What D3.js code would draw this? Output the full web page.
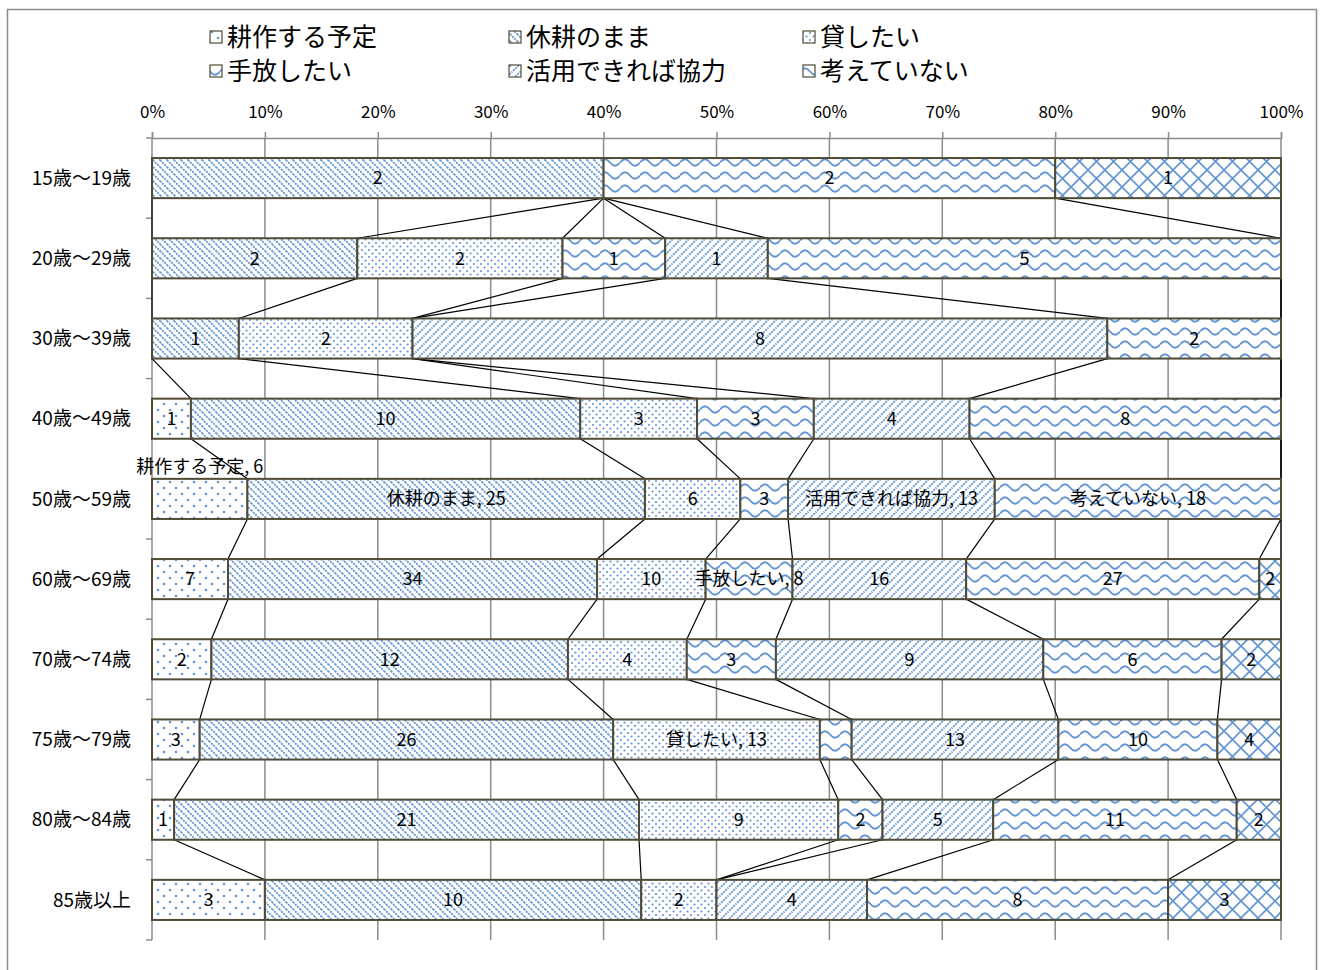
<!DOCTYPE html>
<html><head><meta charset="utf-8">
<script src="https://cdn.jsdelivr.net/npm/d3@7/dist/d3.min.js"></script>
<style>
body{margin:0;background:#fff;}
text{font-family:"Noto Sans CJK JP","Noto Sans",sans-serif;}
</style></head>
<body><svg id="c" width="1323" height="970"></svg>
<script>
const categories = ["15歳～19歳","20歳～29歳","30歳～39歳","40歳～49歳","50歳～59歳","60歳～69歳","70歳～74歳","75歳～79歳","80歳～84歳","85歳以上"];
const seriesNames = ["耕作する予定","休耕のまま","貸したい","手放したい","活用できれば協力","考えていない","その他"];
const s耕作 = [0,0,0,1,6,7,2,3,1,3];
const s休耕 = [2,2,1,10,25,34,12,26,21,10];
const s貸 = [0,2,2,3,6,10,4,13,9,2];
const s手放 = [0,1,0,3,3,8,3,2,2,0];
const s活用 = [0,1,8,4,13,16,9,13,5,4];
const s考え = [2,5,2,8,18,27,6,10,11,8];
const sその他 = [1,0,0,0,0,2,2,4,2,3];
const seriesValues = [s耕作,s休耕,s貸,s手放,s活用,s考え,sその他];
const legendSeries = 6; // last series not listed in the legend
const xTicks = [0,0.1,0.2,0.3,0.4,0.5,0.6,0.7,0.8,0.9,1];
// labels shown as "name, value": [category index, series index]
const nameLabels = [[4,0],[4,1],[4,4],[4,5],[5,3],[7,2]];
const hiddenLabels = [[7,3]];
const aboveLabels = [[4,0]];

const svg = d3.select("#c");
const blue = "#6596d4";
const defs = svg.append("defs");
function pat(id,w,h,fn){const p=defs.append("pattern").attr("id",id).attr("patternUnits","userSpaceOnUse").attr("width",w).attr("height",h);p.append("rect").attr("width",w).attr("height",h).attr("fill","#fff");fn(p);}
pat("p0",12,12,p=>{p.append("circle").attr("cx",2).attr("cy",2).attr("r",1.3).attr("fill",blue);p.append("circle").attr("cx",8).attr("cy",8).attr("r",1.3).attr("fill",blue);});
pat("p1",7,7,p=>{p.append("path").attr("d","M-1,-1 L8,8 M-1,6 L1,8 M6,-1 L8,1").attr("stroke",blue).attr("stroke-width",1.8).attr("stroke-dasharray","2,1");});
pat("p2",7,7,p=>{p.append("circle").attr("cx",1.5).attr("cy",1.5).attr("r",1.1).attr("fill",blue);p.append("circle").attr("cx",5).attr("cy",5).attr("r",1.1).attr("fill",blue);});
pat("p3",20,13,p=>{p.append("path").attr("d","M0,6.5 Q5,0 10,6.5 T20,6.5").attr("fill","none").attr("stroke",blue).attr("stroke-width",2);});
pat("p4",8,8,p=>{p.append("path").attr("d","M-1,9 L9,-1 M-1,1 L1,-1 M7,9 L9,7").attr("stroke",blue).attr("stroke-width",1.8).attr("stroke-dasharray","2,1");});
pat("p5",20,13,p=>{p.append("path").attr("d","M0,6.5 Q5,0 10,6.5 T20,6.5").attr("fill","none").attr("stroke",blue).attr("stroke-width",2);});
pat("p6",17,17,p=>{p.append("path").attr("d","M0,0 L17,17 M17,0 L0,17").attr("stroke",blue).attr("stroke-width",1.7);});

// chart border
svg.append("rect").attr("x",7.5).attr("y",9.5).attr("width",1309).attr("height",990).attr("fill","none").attr("stroke","#8c8c8c").attr("stroke-width",1.5);

const x = d3.scaleLinear().domain([0,1]).range([152,1281]);
const y = d3.scaleBand().domain(categories).range([138,940]).paddingInner(0.5).paddingOuter(0.25);
const bw = y.bandwidth();

const table = categories.map((c,i)=>{const o={cat:c};seriesNames.forEach((s,j)=>o[s]=seriesValues[j][i]);return o;});
const stacked = d3.stack().keys(seriesNames).offset(d3.stackOffsetExpand)(table);

// gridlines
svg.append("g").selectAll("line").data(xTicks.slice(1)).join("line")
 .attr("x1",d=>x(d)).attr("x2",d=>x(d)).attr("y1",138).attr("y2",940)
 .attr("stroke","#8c8c8c").attr("stroke-width",1.5);

// top axis
const ax = svg.append("g").attr("transform","translate(0,138)")
 .call(d3.axisTop(x).tickValues(xTicks).tickFormat(d3.format(".0%")).tickSize(6).tickPadding(14));
ax.select(".domain").attr("stroke","#8c8c8c").attr("stroke-width",1.5);
ax.selectAll(".tick line").attr("stroke","#8c8c8c").attr("stroke-width",1.5);
ax.selectAll("text").attr("font-size",17).attr("fill","#000").attr("font-family","\"Noto Sans CJK JP\",sans-serif");

// left axis
const boundaries = categories.map(c=>y(c)-y.step()*0.25).concat([940]);
svg.append("line").attr("x1",152).attr("x2",152).attr("y1",138).attr("y2",940).attr("stroke","#8c8c8c").attr("stroke-width",1.5);
svg.append("g").selectAll("line").data(boundaries).join("line")
 .attr("x1",146).attr("x2",152).attr("y1",d=>d).attr("y2",d=>d).attr("stroke","#8c8c8c").attr("stroke-width",1.5);
svg.append("g").selectAll("text").data(categories).join("text")
 .attr("x",131).attr("y",c=>y(c)+bw/2).attr("dy","0.35em").attr("text-anchor","end")
 .attr("font-size",19).text(c=>c);

// series lines
stacked.forEach((s,j)=>{
  for(let i=0;i<categories.length-1;i++){
    svg.append("line").attr("x1",x(s[i][1])).attr("y1",y(categories[i])+bw)
     .attr("x2",x(s[i+1][1])).attr("y2",y(categories[i+1]))
     .attr("stroke","#000").attr("stroke-width",1.2);
  }
});

// bars
stacked.forEach((s,j)=>{
  svg.append("g").selectAll("rect").data(s.filter(d=>d[1]-d[0]>0)).join("rect")
   .attr("x",d=>x(d[0])).attr("width",d=>x(d[1])-x(d[0]))
   .attr("y",d=>y(d.data.cat)).attr("height",bw)
   .attr("fill",`url(#p${j})`).attr("stroke","#4f4b36").attr("stroke-width",2);
});

// labels
const has=(arr,i,j)=>arr.some(a=>a[0]===i&&a[1]===j);
stacked.forEach((s,j)=>{
  s.forEach((d,i)=>{
    const v=seriesValues[j][i];
    if(!v||has(hiddenLabels,i,j))return;
    const t=has(nameLabels,i,j)?`${seriesNames[j]}, ${v}`:`${v}`;
    const above=has(aboveLabels,i,j);
    svg.append("text").attr("x",x((d[0]+d[1])/2)).attr("y",above?y(d.data.cat)-12:y(d.data.cat)+bw/2)
     .attr("dy","0.35em").attr("text-anchor","middle").attr("font-size",18).attr("fill","#000").text(t);
  });
});

// legend
const lx=[216,515,809], ly=[37,71];
seriesNames.slice(0,legendSeries).forEach((n,k)=>{
  const cx=lx[k%3], cy=ly[Math.floor(k/3)];
  const g=svg.append("g");
  g.append("rect").attr("x",cx-6).attr("y",cy-6).attr("width",12).attr("height",12)
   .attr("fill",`url(#p${k})`).attr("stroke","#4f4b36").attr("stroke-width",1.2);
  g.append("text").attr("x",cx+11).attr("y",cy).attr("dy","0.36em").attr("font-size",25).text(n);
});
</script></body></html>
